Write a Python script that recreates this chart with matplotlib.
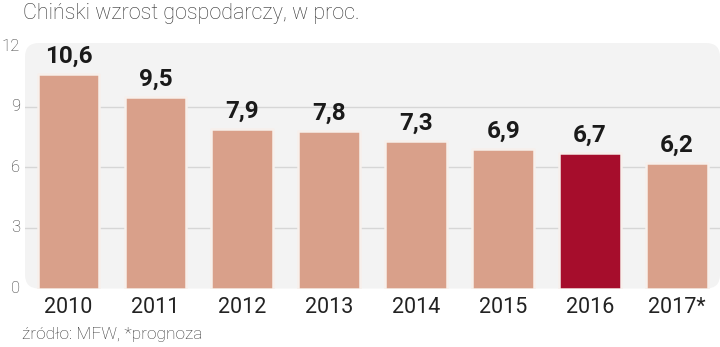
import matplotlib
matplotlib.use("Agg")
import matplotlib.pyplot as plt
from matplotlib.patches import FancyBboxPatch

# Chinese GDP growth, percent
years = ["2010", "2011", "2012", "2013", "2014", "2015", "2016", "2017*"]
growth = [10.6, 9.5, 7.9, 7.8, 7.3, 6.9, 6.7, 6.2]
labels = ["10,6", "9,5", "7,9", "7,8", "7,3", "6,9", "6,7", "6,2"]
highlight = "2016"
y_ticks = [0, 3, 6, 9, 12]

W, H = 720, 347
fig = plt.figure(figsize=(W / 100, H / 100), dpi=100)
fig.patch.set_facecolor("white")

left_px, right_px, top_px, zero_px = 25, 720, 43, 288.5
ax = fig.add_axes([left_px / W, (H - zero_px) / H,
                   (right_px - left_px) / W, (zero_px - top_px) / H])
ax.set_xlim(-0.5, 7.494)
ax.set_ylim(0, 12.15)
ax.axis("off")

# rounded light-grey panel behind the chart
ax_w_px = right_px - left_px
ax_h_px = zero_px - top_px
panel = FancyBboxPatch((0, 0), 1, 1, boxstyle="round,pad=0,rounding_size=0.02",
                       mutation_aspect=ax_w_px / ax_h_px, transform=ax.transAxes,
                       facecolor="#f3f3f3", edgecolor="none", zorder=0, clip_on=False)
ax.add_patch(panel)

# horizontal gridlines
for t in y_ticks[1:-1]:
    ax.axhline(t, color="#d6d6d6", lw=1.0, zorder=1)

# y tick labels
for t in y_ticks:
    ax.text(-0.5 - 5 / 86.93, t, str(t), ha="right", va="center",
            fontsize=12, family="Roboto", fontweight="light", color="#333333")

x = list(range(len(years)))
colors = ["#a60d2c" if y == highlight else "#d9a08a" for y in years]
bars = ax.bar(x, growth, width=0.71, color=colors, edgecolor="#f7f0ec",
              linewidth=1.8, zorder=3)
for b in bars:
    b.set_joinstyle("round")

for xi, v, lab in zip(x, growth, labels):
    ax.annotate(lab, (xi, v), xytext=(0, 8), textcoords="offset points",
                ha="center", va="baseline", fontsize=17.5, family="Roboto",
                fontweight="bold", color="#1a1a1a", zorder=4)

for xi, yr in zip(x, years):
    ax.text(xi, -0.95, yr, ha="center", va="center", fontsize=15.5,
            family="Roboto", color="#222222")

fig.text(23 / W, 1 - 14 / H, "Chiński wzrost gospodarczy, w proc.",
         ha="left", va="center", fontsize=15.5, family="Roboto",
         fontweight="light", color="#333333")
fig.text(22 / W, 1 - 334 / H, "źródło: MFW, *prognoza", ha="left", va="center",
         fontsize=12.5, family="Roboto", fontweight="light", color="#333333")

fig.savefig("out.png", dpi=100, facecolor="white")
